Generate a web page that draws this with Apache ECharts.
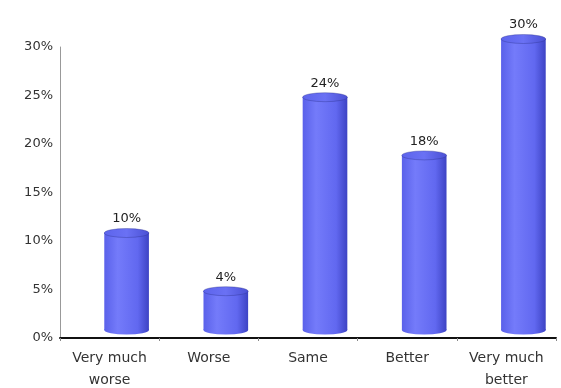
<!DOCTYPE html>
<html>
<head>
<meta charset="utf-8">
<script src="https://cdn.jsdelivr.net/npm/echarts@6/dist/echarts.min.js"></script>
<style>
  html, body { margin: 0; padding: 0; background: #fff; }
  #chart { width: 561px; height: 388px; }
</style>
</head>
<body>
<div id="chart"></div>
<script>
// Survey answers and their shares (percent)
const categories = ['Very much\nworse', 'Worse', 'Same', 'Better', 'Very much\nbetter'];
const shares = [10, 4, 24, 18, 30];
const yTicks = [0, 5, 10, 15, 20, 25, 30];

// Depth offset of the 3D cylinders relative to the axis plane (px)
const DEPTH_X = 17;
const DEPTH_Y = -8;
const FONT = '"DejaVu Sans", Verdana, sans-serif';

const bodyGradient = new echarts.graphic.LinearGradient(0, 0, 1, 0, [
  { offset: 0, color: '#5a61ea' },
  { offset: 0.3, color: '#747bfa' },
  { offset: 0.75, color: '#6168f0' },
  { offset: 1, color: '#3d43c4' }
]);
const topGradient = new echarts.graphic.LinearGradient(0, 0, 1, 0, [
  { offset: 0, color: '#5d64ec' },
  { offset: 0.5, color: '#6a71f4' },
  { offset: 1, color: '#4a50d4' }
]);

function renderCylinder(params, api) {
  const idx = api.value(0);
  const val = api.value(1);
  const topPt = api.coord([idx, val]);
  const basePt = api.coord([idx, 0]);
  const bandW = api.size([1, 0])[0];
  const w = bandW * 0.45;
  const rx = w / 2;
  const ry = 4.5;
  const cx = topPt[0] + DEPTH_X;
  const topY = topPt[1] + DEPTH_Y;
  const baseY = basePt[1] + DEPTH_Y;
  return {
    type: 'group',
    children: [
      // soft shadow under the base
      {
        type: 'circle',
        shape: { cx: 0, cy: 0, r: rx * 0.6 },
        x: cx - 2, y: baseY + 1, scaleY: 2 / (rx * 0.6),
        style: { fill: '#222' }
      },
      // rounded base
      {
        type: 'circle',
        shape: { cx: 0, cy: 0, r: rx },
        x: cx, y: baseY, scaleY: ry / rx,
        style: { fill: bodyGradient }
      },
      // body
      {
        type: 'rect',
        shape: { x: cx - rx, y: topY, width: w, height: baseY - topY },
        style: { fill: bodyGradient }
      },
      // top cap
      {
        type: 'circle',
        shape: { cx: 0, cy: 0, r: rx },
        x: cx, y: topY, scaleY: ry / rx,
        style: { fill: topGradient, stroke: '#2a2f8a', lineWidth: 0.6 }
      },
      // value label
      {
        type: 'text',
        x: cx, y: topY - ry - 3,
        style: {
          text: val + '%',
          textAlign: 'center',
          textVerticalAlign: 'bottom',
          fill: '#222',
          font: '13px ' + FONT
        }
      }
    ]
  };
}

const chart = echarts.init(document.getElementById('chart'), null, { renderer: 'canvas' });
chart.setOption({
  animation: false,
  backgroundColor: '#ffffff',
  grid: {
    left: 60, right: 5, top: 47, bottom: 50,
    containLabel: false,
    outerBoundsMode: 'none'
  },
  xAxis: {
    type: 'category',
    data: categories,
    axisLine: { show: true, lineStyle: { color: '#111', width: 2 } },
    axisTick: { show: true, length: 3, lineStyle: { color: '#888' } },
    axisLabel: {
      color: '#333',
      fontSize: 14,
      fontFamily: FONT,
      lineHeight: 22,
      margin: 9
    }
  },
  yAxis: {
    type: 'value',
    min: yTicks[0],
    max: yTicks[yTicks.length - 1],
    interval: yTicks[1] - yTicks[0],
    axisLine: { show: true, lineStyle: { color: '#999', width: 1 } },
    axisTick: { show: false },
    splitLine: { show: false },
    axisLabel: {
      formatter: v => v + '%',
      color: '#333',
      fontSize: 13,
      fontFamily: FONT,
      margin: 7
    }
  },
  series: [{
    type: 'custom',
    renderItem: renderCylinder,
    data: shares.map((v, i) => [i, v]),
    encode: { x: 0, y: 1 },
    z: 3
  }]
});
</script>
</body>
</html>
